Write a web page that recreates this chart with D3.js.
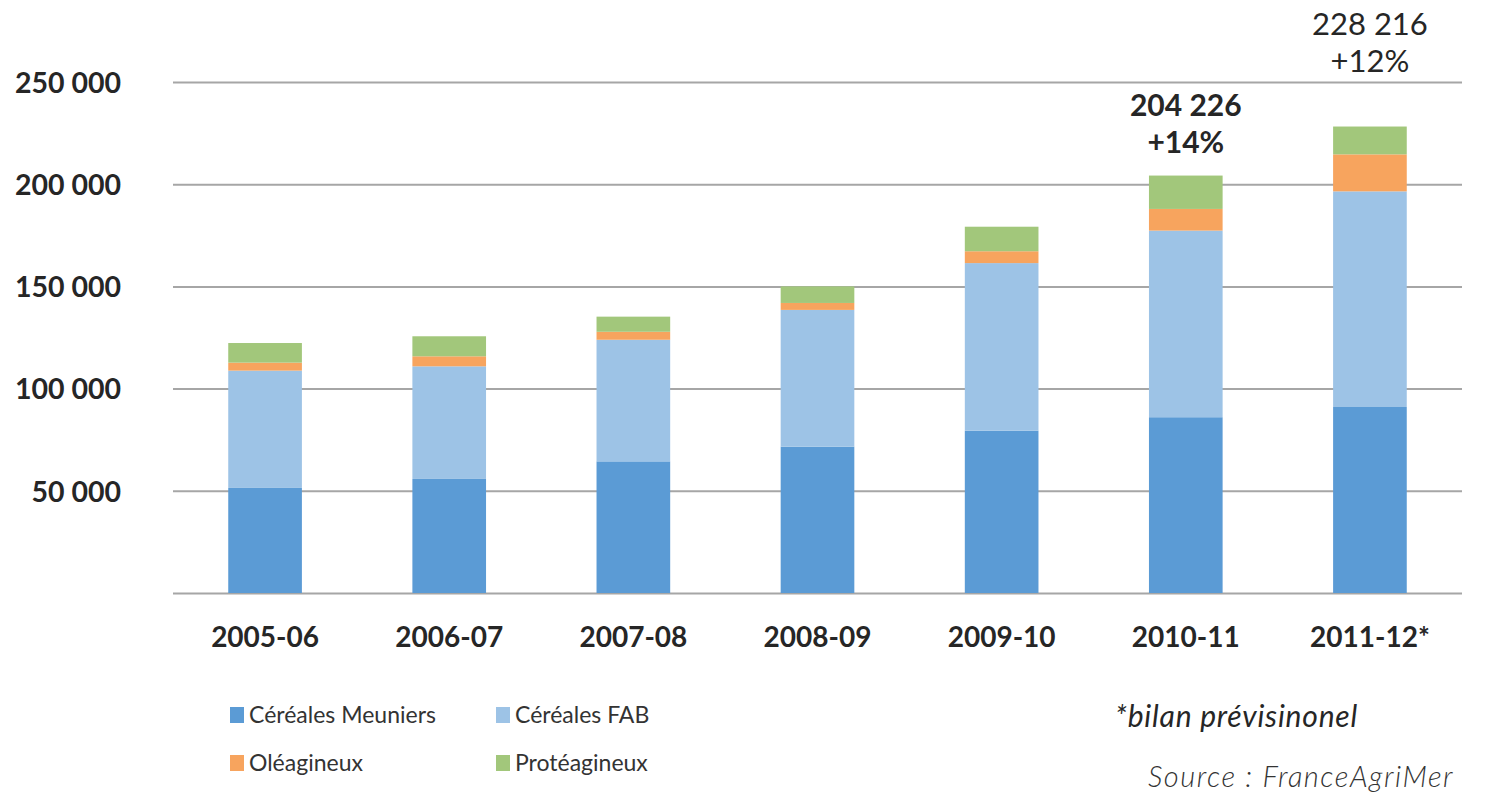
<!DOCTYPE html>
<html><head><meta charset="utf-8">
<script src="https://cdn.jsdelivr.net/npm/d3@7"></script>
<style>
html,body{margin:0;padding:0;background:#fff;}
svg{display:block;}
</style></head>
<body>
<svg id="chart" width="1495" height="796"></svg>
<script>
const categories = ["2005-06","2006-07","2007-08","2008-09","2009-10","2010-11","2011-12*"];
const cerealesMeuniers = [51400, 55800, 64400, 71600, 79400, 86000, 91000];
const cerealesFAB      = [57400, 55100, 59500, 66900, 82000, 91300, 105500];
const oleagineux       = [3900, 4900, 3900, 3400, 5800, 10600, 18100];
const proteagineux     = [9600, 9800, 7400, 8100, 12000, 16326, 13616];
const seriesNames = ["Céréales Meuniers","Céréales FAB","Oléagineux","Protéagineux"];
const seriesColors = ["#5B9BD5","#9DC3E6","#F7A45E","#A2C77B"];
const yTicks = [0, 50000, 100000, 150000, 200000, 250000];
const annotations = [
  {cat:"2010-11", lines:["204 226","+14%"], bold:true},
  {cat:"2011-12*", lines:["228 216","+12%"], bold:false}
];

const svg = d3.select("#chart");
const font = "Lato, 'Open Sans', sans-serif";
const x = d3.scaleBand().domain(categories).range([173, 1462]).paddingInner(0.6).paddingOuter(0.3);
const y = d3.scaleLinear().domain([0, 250000]).range([593, 82]);

// gridlines
const yAxis = d3.axisLeft(y).tickValues(yTicks).tickSize(-(1462-173)).tickFormat(d => d === 0 ? "" : d3.format(",")(d).replace(/,/g, " "));
const gy = svg.append("g").attr("transform", "translate(173,0)").call(yAxis);
gy.select(".domain").remove();
gy.selectAll(".tick line").attr("stroke", "#A6A6A6").attr("stroke-width", 2);
gy.selectAll(".tick text").attr("x", -52).attr("dy", "0.36em")
  .attr("font-family", font).attr("font-weight", "bold").attr("font-size", 28.5).attr("fill", "#262626");

// stacked bars
const data = categories.map((c, i) => ({cat: c, s0: cerealesMeuniers[i], s1: cerealesFAB[i], s2: oleagineux[i], s3: proteagineux[i]}));
const stack = d3.stack().keys(["s0","s1","s2","s3"]);
const stacked = stack(data);
svg.append("g").selectAll("g").data(stacked).join("g")
  .attr("fill", (d, i) => seriesColors[i])
  .selectAll("rect").data(d => d).join("rect")
  .attr("x", d => x(d.data.cat))
  .attr("width", x.bandwidth())
  .attr("y", d => y(d[1]))
  .attr("height", d => y(d[0]) - y(d[1]));

// x axis labels
const xAxis = d3.axisBottom(x).tickSize(0);
const gx = svg.append("g").attr("transform", "translate(0,593)").call(xAxis);
gx.select(".domain").remove();
gx.selectAll(".tick text").attr("y", 34).attr("dy", "0.71em")
  .attr("font-family", font).attr("font-weight", "bold").attr("font-size", 28).attr("fill", "#262626");

// annotations
annotations.forEach(a => {
  const cx = x(a.cat) + x.bandwidth() / 2;
  const baseY = a.bold ? 116 : 35;
  a.lines.forEach((t, j) => {
    svg.append("text").attr("x", cx).attr("y", baseY + j * 37).attr("text-anchor", "middle")
      .attr("font-family", font).attr("font-weight", a.bold ? "bold" : "normal")
      .attr("font-size", a.bold ? 30 : 31).attr("fill", "#262626").text(t);
  });
});

// legend
const legendPos = [[230, 715], [496, 715], [230, 763], [496, 763]];
seriesNames.forEach((n, i) => {
  const g = svg.append("g").attr("transform", `translate(${legendPos[i][0]},${legendPos[i][1]})`);
  g.append("rect").attr("x", 0).attr("y", -8).attr("width", 14).attr("height", 16).attr("fill", seriesColors[i]);
  g.append("text").attr("x", 19).attr("y", 0).attr("dy", "0.35em")
    .attr("font-family", font).attr("font-size", 23).attr("fill", "#333").text(n);
});

svg.append("text").attr("x", 1115).attr("y", 727).attr("font-family", font).attr("font-style", "italic")
  .attr("font-size", 30).attr("letter-spacing", 0.8).attr("fill", "#262626").text("*bilan prévisinonel");
svg.append("text").attr("x", 1148).attr("y", 787).attr("font-family", font).attr("font-style", "italic")
  .attr("font-weight", 300).attr("font-size", 29).attr("letter-spacing", 1.5).attr("fill", "#333").text("Source : FranceAgriMer");
</script>
</body></html>
